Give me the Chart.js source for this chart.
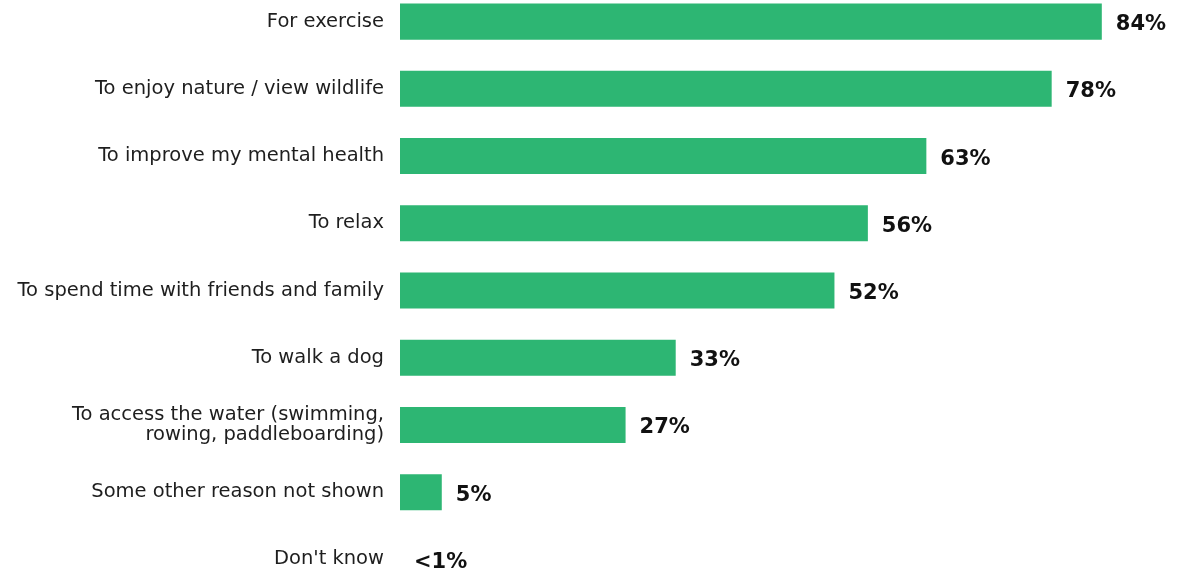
<!DOCTYPE html>
<html>
<head>
<meta charset="utf-8">
<script src="https://cdn.jsdelivr.net/npm/chart.js@4"></script>
<style>
  html, body { margin: 0; padding: 0; background: #fff; overflow: hidden; }
  #chart { position: absolute; left: 0; top: -12px; }
</style>
</head>
<body>
<canvas id="chart" width="1177" height="605"></canvas>
<script>
const categories = [
  "For exercise",
  "To enjoy nature / view wildlife",
  "To improve my mental health",
  "To relax",
  "To spend time with friends and family",
  "To walk a dog",
  ["To access the water (swimming,", "rowing, paddleboarding)"],
  "Some other reason not shown",
  "Don't know"
];
const values = [84, 78, 63, 56, 52, 33, 27, 5, 0];
const valueLabels = ["84%", "78%", "63%", "56%", "52%", "33%", "27%", "5%", "<1%"];

// draw the percentage next to each bar
const barLabels = {
  id: 'barLabels',
  afterDatasetsDraw(chart) {
    const ctx = chart.ctx;
    const meta = chart.getDatasetMeta(0);
    ctx.save();
    ctx.font = 'bold 21px "DejaVu Sans"';
    ctx.fillStyle = '#111';
    ctx.textBaseline = 'middle';
    meta.data.forEach((bar, i) => {
      ctx.fillText(valueLabels[i], bar.x + 14, bar.y + 3);
    });
    ctx.restore();
  }
};

new Chart(document.getElementById('chart'), {
  type: 'bar',
  data: {
    labels: categories,
    datasets: [{
      data: values,
      backgroundColor: '#2db673',
      barPercentage: 0.536,
      categoryPercentage: 1
    }]
  },
  options: {
    indexAxis: 'y',
    responsive: false,
    animation: false,
    layout: { padding: 0 },
    plugins: { legend: { display: false }, tooltip: { enabled: false } },
    scales: {
      x: { display: false, min: 0, max: 93 },
      y: {
        grid: { display: false, drawTicks: false },
        border: { display: false },
        afterFit(scale) {
          scale.width = 400;
          scale.paddingTop = 0;
          scale.paddingBottom = 0;
        },
        ticks: {
          padding: 16,
          color: '#1e1e1e',
          font: { family: 'DejaVu Sans', size: 19.5, lineHeight: 1.0 }
        }
      }
    }
  },
  plugins: [barLabels]
});
</script>
</body>
</html>
